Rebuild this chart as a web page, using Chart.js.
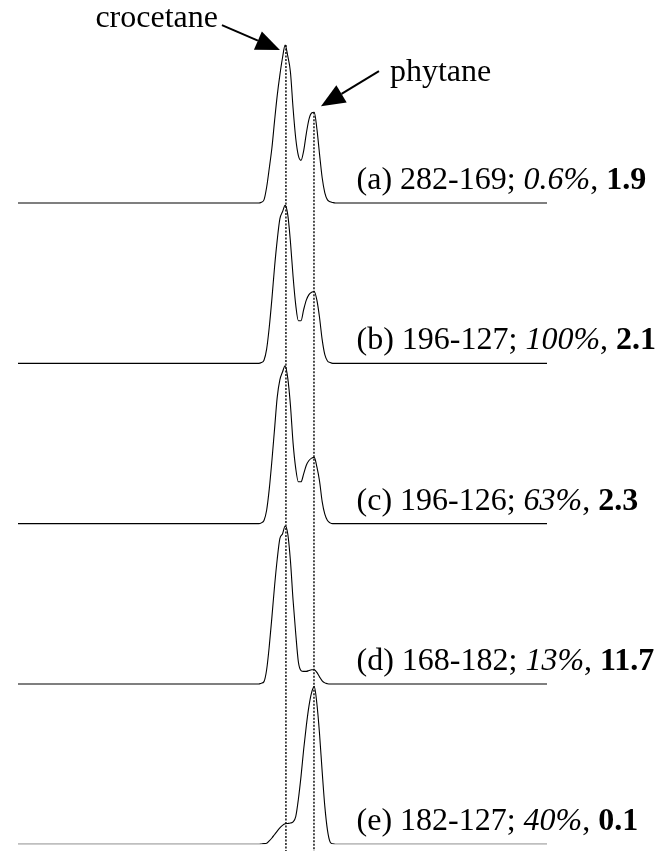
<!DOCTYPE html>
<html>
<head>
<meta charset="utf-8">
<script src="https://cdn.jsdelivr.net/npm/chart.js@4.4.1/dist/chart.umd.min.js"></script>
<style>
  html, body { margin: 0; padding: 0; background: #fff; }
  canvas { display: block; }
</style>
</head>
<body>
<canvas id="chromChart" width="660" height="851"></canvas>
<script>
// scan numbers (retention axis), shared by all five traces
const SCANS = [0, 90, 91, 92, 93, 94, 95, 96, 97, 98, 99, 100, 101, 102, 103, 104, 105,
  106, 107, 108, 109, 110, 111, 112, 113, 114, 115, 116, 117, 118, 119, 120, 200];

// relative intensity (% of largest peak in each trace)
const TRACE_A = [0, 0, 0, 0.5, 2, 10, 22, 35, 52, 68, 81, 92, 100, 93, 83, 60, 41,
  30, 27, 33, 44, 53, 57, 57.5, 47, 31, 16, 6.5, 2, 0.8, 0.3, 0, 0];
const TRACE_B = [0, 0, 0, 0.5, 2, 9, 23, 41, 61, 78, 91.5, 96, 100, 94, 77, 55, 37,
  27, 27, 34, 40, 43.5, 45, 45.5, 40, 29, 15, 5.5, 1.5, 0.5, 0, 0, 0];
const TRACE_C = [0, 0, 0, 0.5, 2, 8.5, 22, 40, 60, 80, 91, 96, 100, 92, 75, 51, 35,
  26.5, 26.5, 31.5, 37, 40, 41.5, 42, 36, 27, 14, 6, 2, 0.5, 0, 0, 0];
const TRACE_D = [0, 0, 0, 0.5, 1.5, 9, 24, 42.5, 62, 79, 92, 95, 100, 95, 78, 53, 32,
  14, 8.5, 8, 8, 8.5, 9, 9, 7.3, 4.5, 2, 0.7, 0.2, 0, 0, 0, 0];
const TRACE_E = [0, 0, 0, 0.2, 0.4, 0.6, 2.2, 4, 6.2, 8.4, 10.4, 12, 13, 13.2, 13.5, 14.2, 17.5,
  28.5, 43, 60, 75, 87.5, 96, 100, 89, 70, 46, 24, 9, 1.5, 0.3, 0, 0];

const LETTERS = ['a', 'b', 'c', 'd', 'e'];
const ION_PAIRS = ['282-169', '196-127', '196-126', '168-182', '182-127'];
const ABUNDANCE = ['0.6%', '100%', '63%', '13%', '40%'];
const RATIOS = ['1.9', '2.1', '2.3', '11.7', '0.1'];

const CROCETANE_SCAN = 101.3;
const PHYTANE_SCAN = 111.9;
const LABEL_SCAN = 128;

const traces = [TRACE_A, TRACE_B, TRACE_C, TRACE_D, TRACE_E];
const PEAK_FRAC = 0.985;   // share of a panel taken by the tallest peak
const FONT = '"Liberation Serif", "Times New Roman", serif';
const FONT_PX = 32;

function offsetOf(i) { return traces.length - 1 - i; }

const datasets = traces.map((vals, i) => ({
  label: LETTERS[i],
  data: SCANS.map((s, k) => ({ x: s, y: offsetOf(i) + vals[k] / 100 * PEAK_FRAC })),
  borderColor: '#000',
  borderWidth: 1.1,
  pointRadius: 0,
  fill: false,
  cubicInterpolationMode: 'monotone'
}));

function arrow(ctx, x1, y1, x2, y2) {
  const ang = Math.atan2(y2 - y1, x2 - x1);
  const len = 24, half = 10;
  const bx = x2 - len * Math.cos(ang), by = y2 - len * Math.sin(ang);
  ctx.beginPath();
  ctx.moveTo(x1, y1);
  ctx.lineTo(bx, by);
  ctx.lineWidth = 2;
  ctx.stroke();
  ctx.beginPath();
  ctx.moveTo(x2, y2);
  ctx.lineTo(bx + half * Math.sin(ang), by - half * Math.cos(ang));
  ctx.lineTo(bx - half * Math.sin(ang), by + half * Math.cos(ang));
  ctx.closePath();
  ctx.fill();
}

const overlay = {
  id: 'overlay',
  afterDatasetsDraw(chart) {
    const { ctx, scales: { x, y } } = chart;
    ctx.save();
    ctx.strokeStyle = '#000';
    ctx.fillStyle = '#000';

    // dotted retention markers
    const cx = x.getPixelForValue(CROCETANE_SCAN);
    const px = x.getPixelForValue(PHYTANE_SCAN);
    const topA = offsetOf(0);
    const crocY = y.getPixelForValue(topA + Math.max(...TRACE_A) / 100 * PEAK_FRAC);
    const phyY = y.getPixelForValue(topA + TRACE_A[SCANS.indexOf(112)] / 100 * PEAK_FRAC);
    ctx.setLineDash([2, 1.5]);
    ctx.lineWidth = 1.4;
    ctx.beginPath();
    ctx.moveTo(cx, crocY); ctx.lineTo(cx, chart.height);
    ctx.moveTo(px, phyY); ctx.lineTo(px, chart.height);
    ctx.stroke();
    ctx.setLineDash([]);

    // peak annotations
    arrow(ctx, cx - 64, crocY - 20, cx - 6, crocY + 5);
    arrow(ctx, px + 65, phyY - 41, px + 7, phyY - 6);
    ctx.font = FONT_PX + 'px ' + FONT;
    ctx.textBaseline = 'alphabetic';
    ctx.textAlign = 'right';
    ctx.fillText('crocetane', cx - 68, crocY - 18);
    ctx.textAlign = 'left';
    ctx.fillText('phytane', px + 76, phyY - 31);

    // trace labels
    const lx = x.getPixelForValue(LABEL_SCAN);
    traces.forEach((_, i) => {
      const by = y.getPixelForValue(offsetOf(i)) - 14;
      const parts = [
        ['', '(' + LETTERS[i] + ') ' + ION_PAIRS[i] + '; '],
        ['italic ', ABUNDANCE[i]],
        ['', ', '],
        ['bold ', RATIOS[i]]
      ];
      let xx = lx;
      parts.forEach(([style, txt]) => {
        ctx.font = style + FONT_PX + 'px ' + FONT;
        ctx.fillText(txt, xx, by);
        xx += ctx.measureText(txt).width;
      });
    });
    ctx.restore();
  }
};

new Chart(document.getElementById('chromChart').getContext('2d'), {
  type: 'line',
  data: { datasets },
  options: {
    responsive: false,
    animation: false,
    layout: { padding: { left: 18, right: 113, top: 42.7, bottom: 6.7 } },
    plugins: { legend: { display: false }, tooltip: { enabled: false } },
    scales: {
      x: { type: 'linear', min: 0, max: 200, display: false },
      y: { min: 0, max: 5, display: false }
    }
  },
  plugins: [overlay]
});
</script>
</body>
</html>
